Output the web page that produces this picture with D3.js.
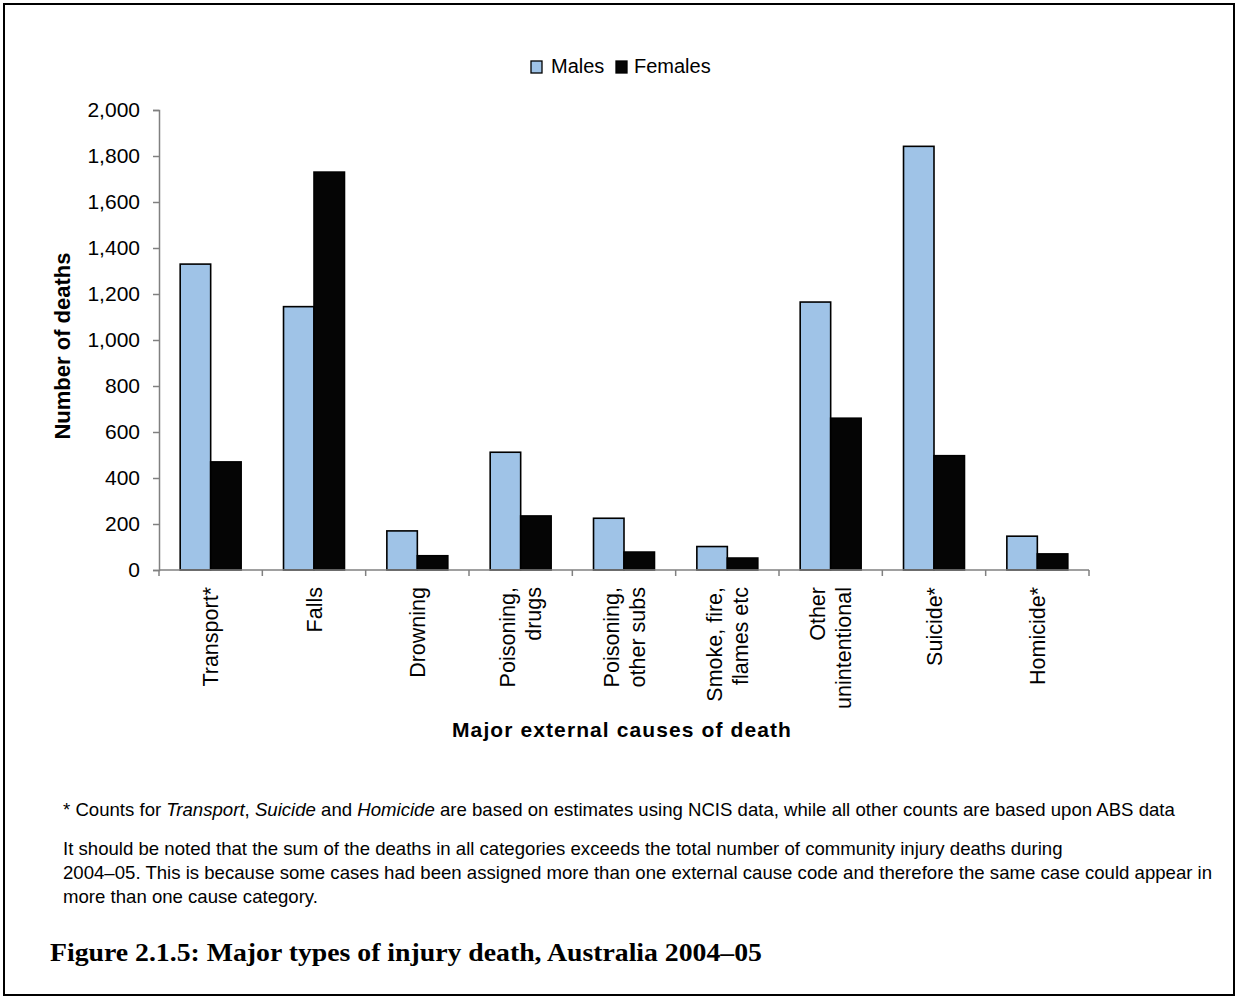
<!DOCTYPE html>
<html>
<head>
<meta charset="utf-8">
<script src="https://cdn.jsdelivr.net/npm/d3@7"></script>
<style>
  html, body { margin: 0; padding: 0; background: #fff; }
  svg { display: block; }
  text { font-family: "Liberation Sans", Arial, sans-serif; fill: #000; }
</style>
</head>
<body>
<svg id="chart" width="1236" height="997"></svg>
<script>
// ---- data ----
const categories = ["Transport*", "Falls", "Drowning", "Poisoning,\ndrugs", "Poisoning,\nother subs",
                    "Smoke, fire,\nflames etc", "Other\nunintentional", "Suicide*", "Homicide*"];
const seriesNames = ["Males", "Females"];
const males   = [1330, 1145, 170, 512, 225, 102, 1165, 1842, 147];
const females = [470, 1730, 62, 235, 78, 52, 660, 497, 70];
const yTicks = [0, 200, 400, 600, 800, 1000, 1200, 1400, 1600, 1800, 2000];
const footnote = ["* Counts for ", ["Transport", true], ", ", ["Suicide", true], " and ", ["Homicide", true],
                  " are based on estimates using NCIS data, while all other counts are based upon ABS data"];
const noteLines = [
  "It should be noted that the sum of the deaths in all categories exceeds the total number of community injury deaths during",
  "2004\u201305. This is because some cases had been assigned more than one external cause code and therefore the same case could appear in",
  "more than one cause category."
];
const caption = "Figure 2.1.5: Major types of injury death, Australia 2004\u201305";

const colors = { Males: "#9fc3e7", Females: "#050505" };

// ---- layout ----
const svg = d3.select("#chart");
const plot = { left: 159, right: 1089, top: 110, bottom: 570 };

// outer frame
svg.append("rect").attr("x", 4).attr("y", 4).attr("width", 1230).attr("height", 991)
  .attr("fill", "none").attr("stroke", "#000").attr("stroke-width", 2);

const x0 = d3.scaleBand().domain(categories).range([plot.left, plot.right])
  .paddingInner(0.41).paddingOuter(0.205);
const x1 = d3.scaleBand().domain(seriesNames).range([0, x0.bandwidth()]);
const y = d3.scaleLinear().domain([0, 2000]).range([plot.bottom, plot.top]);

const rows = categories.map((c, i) => ({ cat: c, Males: males[i], Females: females[i] }));

// bars
const g = svg.append("g");
const groups = g.selectAll("g.grp").data(rows).join("g")
  .attr("transform", d => `translate(${x0(d.cat)},0)`);
groups.selectAll("rect").data(d => seriesNames.map(s => ({ s, v: d[s] }))).join("rect")
  .attr("x", d => x1(d.s))
  .attr("y", d => y(d.v))
  .attr("width", x1.bandwidth())
  .attr("height", d => y(0) - y(d.v))
  .attr("fill", d => colors[d.s])
  .attr("stroke", "#000")
  .attr("stroke-width", 1.6);

// y axis
const axisColor = "#808080";
const yAxis = svg.append("g").attr("transform", `translate(${plot.left},0)`)
  .call(d3.axisLeft(y).tickValues(yTicks).tickSize(6).tickPadding(13).tickFormat(d3.format(",")));
yAxis.select(".domain").attr("stroke", axisColor).attr("stroke-width", 1.5);
yAxis.selectAll(".tick line").attr("stroke", axisColor).attr("stroke-width", 1.5);
yAxis.selectAll(".tick text").attr("font-size", 21).attr("font-family", "Liberation Sans, Arial, sans-serif").attr("fill", "#000");

// x axis line + boundary ticks
const xAx = svg.append("g");
xAx.append("line").attr("x1", plot.left).attr("x2", plot.right).attr("y1", y(0)).attr("y2", y(0))
  .attr("stroke", axisColor).attr("stroke-width", 1.5);
const boundaries = categories.map(c => x0(c) - x0.step() * x0.paddingOuter()).concat([plot.right]);
xAx.selectAll("line.tk").data(boundaries).join("line").attr("class", "tk")
  .attr("x1", d => d).attr("x2", d => d).attr("y1", y(0)).attr("y2", y(0) + 6)
  .attr("stroke", axisColor).attr("stroke-width", 1.5);

// x labels (rotated)
const lh = 26;
xAx.selectAll("text.xl").data(categories).join("text").attr("class", "xl")
  .attr("transform", c => `translate(${x0(c) + x0.bandwidth() / 2},587) rotate(-90)`)
  .attr("text-anchor", "end")
  .attr("font-size", 21.5)
  .each(function (c) {
    const lines = c.split("\n");
    const t = d3.select(this);
    lines.forEach((ln, i) => {
      t.append("tspan").attr("x", 0)
        .attr("y", (i - (lines.length - 1) / 2) * lh)
        .attr("dy", "0.36em").text(ln);
    });
  });

// axis titles
svg.append("text").attr("transform", `translate(70,${(plot.top + plot.bottom) / 2 + 6}) rotate(-90)`)
  .attr("text-anchor", "middle").attr("font-size", 22).attr("font-weight", "bold")
  .text("Number of deaths");
svg.append("text").attr("x", (plot.left + plot.right) / 2 - 2).attr("y", 737)
  .attr("text-anchor", "middle").attr("font-size", 21).attr("font-weight", "bold")
  .attr("letter-spacing", 1.1)
  .text("Major external causes of death");

// legend
const leg = svg.append("g");
const legItems = [{ s: "Males", bx: 531, tx: 551 }, { s: "Females", bx: 616, tx: 634 }];
legItems.forEach(it => {
  leg.append("rect").attr("x", it.bx).attr("y", 61).attr("width", 11).attr("height", 12)
    .attr("fill", colors[it.s]).attr("stroke", "#000").attr("stroke-width", 1.3);
  leg.append("text").attr("x", it.tx).attr("y", 73).attr("font-size", 20).text(it.s);
});

// footnotes
const fn = svg.append("text").attr("x", 63).attr("y", 816).attr("font-size", 18.6);
footnote.forEach(p => {
  if (Array.isArray(p)) fn.append("tspan").attr("font-style", "italic").text(p[0]);
  else fn.append("tspan").text(p);
});
noteLines.forEach((ln, i) => {
  svg.append("text").attr("x", 63).attr("y", 855 + i * 24).attr("font-size", 18.6).text(ln);
});

// caption
svg.append("text").attr("x", 50).attr("y", 961).attr("font-size", 25).attr("font-weight", "bold")
  .style("font-family", "'Liberation Serif', 'Times New Roman', serif")
  .attr("textLength", 712).attr("lengthAdjust", "spacingAndGlyphs")
  .text(caption);
</script>
</body>
</html>
